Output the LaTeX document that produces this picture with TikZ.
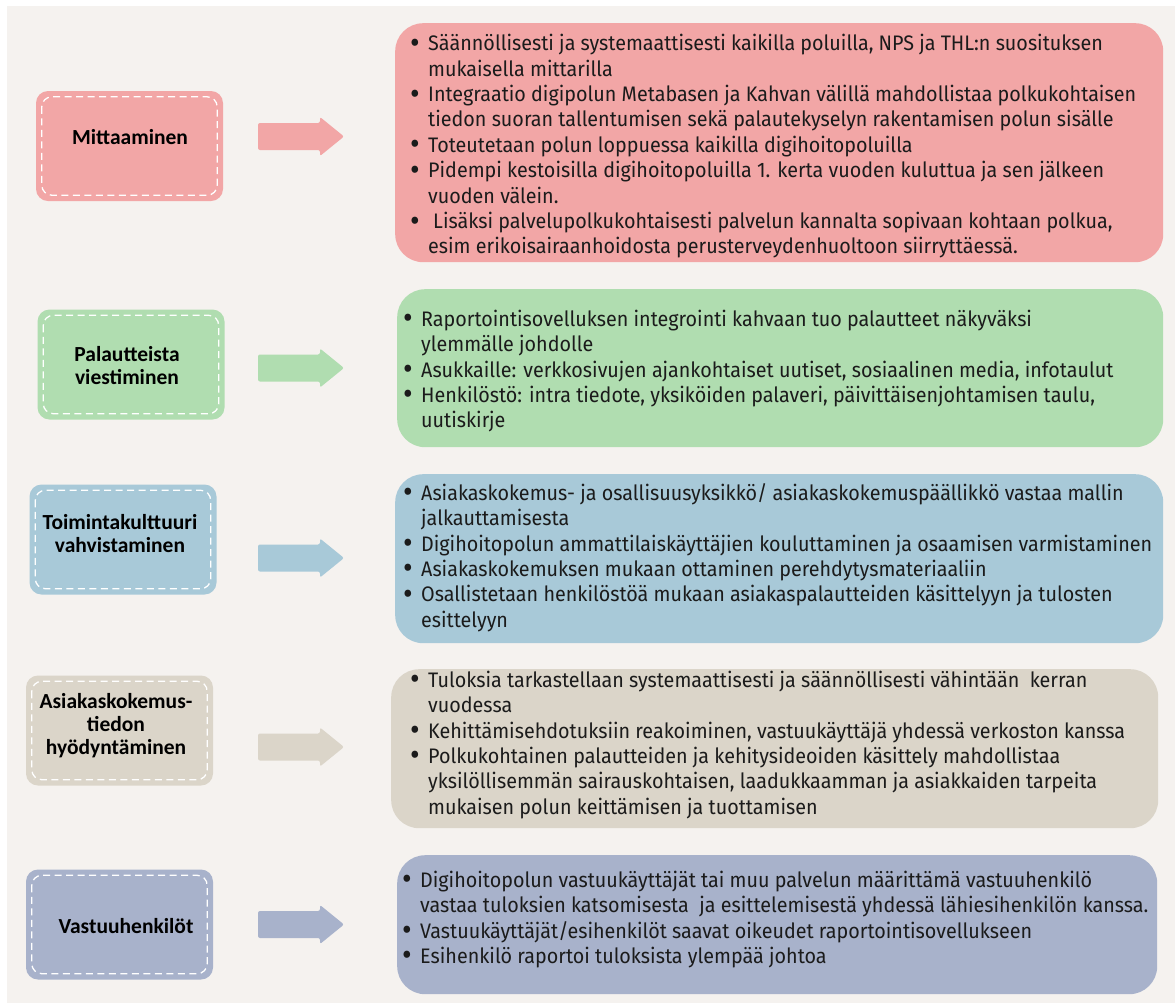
\documentclass[tikz,border=0pt]{standalone}
\usepackage{fontspec}
\setmainfont{Fira Sans}[FakeStretch=0.94]
\newfontfamily\headfont{Carlito}
\usetikzlibrary{positioning}

\definecolor{pagebg}{HTML}{F5F2EF}
\definecolor{rose}{HTML}{F2A6A6}
\definecolor{mint}{HTML}{B0DDB0}
\definecolor{sky}{HTML}{A8C9D8}
\definecolor{sand}{HTML}{DBD5C9}
\definecolor{slate}{HTML}{A8B2CB}
\definecolor{ink}{HTML}{1B1B1B}

% bullet and continuation lines for the item lists
\newlength{\bw}
\setlength{\bw}{18pt}
\newcommand{\bitem}[1]{\strut\makebox[\bw][l]{\raisebox{-2.5pt}{\scalebox{1.5}{\textbullet}}}#1}
\newcommand{\citem}[1]{\strut\hspace*{\bw}#1}

\tikzset{
  leftbox/.style={rounded corners=12pt, minimum width=187pt, minimum height=110pt, inner sep=0pt},
  seam/.style={draw=white, line width=1.3pt, dash pattern=on 7pt off 4.5pt, rounded corners=10pt},
  lefttext/.style={font=\headfont\bfseries\fontsize{21.5}{23}\selectfont, text=black, align=center, inner sep=0pt},
  rightbox/.style={rounded corners=28pt, inner sep=0pt, anchor=north west},
  itemtext/.style={font=\fontsize{21}{25.4}\selectfont, text=ink, align=left, inner sep=0pt, anchor=north west},
}

% block arrow centred on height #1, filled with colour #2
\newcommand{\blockarrow}[2]{%
  \fill[#2, rounded corners=2pt]
    (258,{#1-13.5}) -- (320,{#1-13.5}) -- (320,{#1-19.5}) -- (344,#1)
    -- (320,{#1+19.5}) -- (320,{#1+13.5}) -- (258,{#1+13.5}) -- cycle;}

\begin{document}
\begin{tikzpicture}[x=1pt, y=-1pt]
  \useasboundingbox (0,0) rectangle (1175,1005);
  \fill[white] (0,0) rectangle (1175,1005);
  \fill[pagebg] (7,6) rectangle (1175,1003);

  % ---- left column: topic boxes ----
  \node[leftbox, fill=rose]  (l1) at (129.5,146) {};
  \node[leftbox, fill=mint]  (l2) at (131,364.5) {};
  \node[leftbox, fill=sky]   (l3) at (123,539.5) {};
  \node[leftbox, fill=sand]  (l4) at (119.5,730.5) {};
  \node[leftbox, fill=slate] (l5) at (119.5,924.5) {};
  \foreach \b in {l1,l2,l3,l4,l5}
    \draw[seam] ([shift={(6,6)}]\b.north west) rectangle ([shift={(-6,-6)}]\b.south east);

  \node[lefttext] (h1) at (130,137) {Mittaaminen};
  \node[lefttext] (h2) at (127,366) {Palautteista\\viestiminen};
  \node[lefttext] (h3) at (120,533.5) {Toimintakulttuuri\\vahvistaminen};
  \node[lefttext] (h4) at (116,726) {Asiakaskokemus-\\tiedon\\hyödyntäminen};
  \node[lefttext] (h5) at (126,926) {Vastuuhenkilöt};

  % ---- arrows ----
  \blockarrow{136.5}{rose}
  \blockarrow{368}{mint}
  \blockarrow{558}{sky}
  \blockarrow{747}{sand}
  \blockarrow{924.5}{slate}

  % ---- right column: detail boxes ----
  \node[rightbox, fill=rose,  minimum width=768pt, minimum height=239pt] (r1) at (395,23) {};
  \node[rightbox, fill=mint,  minimum width=766pt, minimum height=158pt] (r2) at (397,289) {};
  \node[rightbox, fill=sky,   minimum width=768pt, minimum height=169pt] (r3) at (395,474) {};
  \node[rightbox, fill=sand,  minimum width=767pt, minimum height=159pt] (r4) at (391,669) {};
  \node[rightbox, fill=slate, minimum width=760pt, minimum height=139pt] (r5) at (397,855) {};

  \node[itemtext] (t1) at (410,{50.5-17.78}) {%
    \bitem{Säännöllisesti ja systemaattisesti kaikilla poluilla, NPS ja THL:n suosituksen}\\
    \citem{mukaisella mittarilla}\\
    \bitem{Integraatio digipolun Metabasen ja Kahvan välillä mahdollistaa polkukohtaisen}\\
    \citem{tiedon suoran tallentumisen sekä palautekyselyn rakentamisen polun sisälle}\\
    \bitem{Toteutetaan polun loppuessa kaikilla digihoitopoluilla}\\
    \bitem{Pidempi kestoisilla digihoitopoluilla 1. kerta vuoden kuluttua ja sen jälkeen}\\
    \citem{vuoden välein.}\\
    \bitem{\hspace*{5pt}Lisäksi palvelupolkukohtaisesti palvelun kannalta sopivaan kohtaan polkua,}\\
    \citem{esim erikoisairaanhoidosta perusterveydenhuoltoon siirryttäessä.}};

  \node[itemtext] (t2) at (403,{326-17.78}) {%
    \bitem{Raportointisovelluksen integrointi kahvaan tuo palautteet näkyväksi}\\
    \citem{ylemmälle johdolle}\\
    \bitem{Asukkaille: verkkosivujen ajankohtaiset uutiset, sosiaalinen media, infotaulut}\\
    \bitem{Henkilöstö: intra tiedote, yksiköiden palaveri, päivittäisenjohtamisen taulu,}\\
    \citem{uutiskirje}};

  \node[itemtext] (t3) at (403,{500-17.78}) {%
    \bitem{Asiakaskokemus- ja osallisuusyksikkö/ asiakaskokemuspäällikkö vastaa mallin}\\
    \citem{jalkauttamisesta}\\
    \bitem{Digihoitopolun ammattilaiskäyttäjien kouluttaminen ja osaamisen varmistaminen}\\
    \bitem{Asiakaskokemuksen mukaan ottaminen perehdytysmateriaaliin}\\
    \bitem{Osallistetaan henkilöstöä mukaan asiakaspalautteiden käsittelyyn ja tulosten}\\
    \citem{esittelyyn}};

  \node[itemtext] (t4) at (410,{687-17.78}) {%
    \bitem{Tuloksia tarkastellaan systemaattisesti ja säännöllisesti vähintään\ \ kerran}\\
    \citem{vuodessa}\\
    \bitem{Kehittämisehdotuksiin reakoiminen, vastuukäyttäjä yhdessä verkoston kanssa}\\
    \bitem{Polkukohtainen palautteiden ja kehitysideoiden käsittely mahdollistaa}\\
    \citem{yksilöllisemmän sairauskohtaisen, laadukkaamman ja asiakkaiden tarpeita}\\
    \citem{mukaisen polun keittämisen ja tuottamisen}};

  \node[itemtext] (t5) at (402,{887-17.78}) {%
    \bitem{Digihoitopolun vastuukäyttäjät tai muu palvelun määrittämä vastuuhenkilö}\\
    \citem{vastaa tuloksien katsomisesta\ \ ja esittelemisestä yhdessä lähiesihenkilön kanssa.}\\
    \bitem{Vastuukäyttäjät/esihenkilöt saavat oikeudet raportointisovellukseen}\\
    \bitem{Esihenkilö raportoi tuloksista ylempää johtoa}};
\end{tikzpicture}
\end{document}
